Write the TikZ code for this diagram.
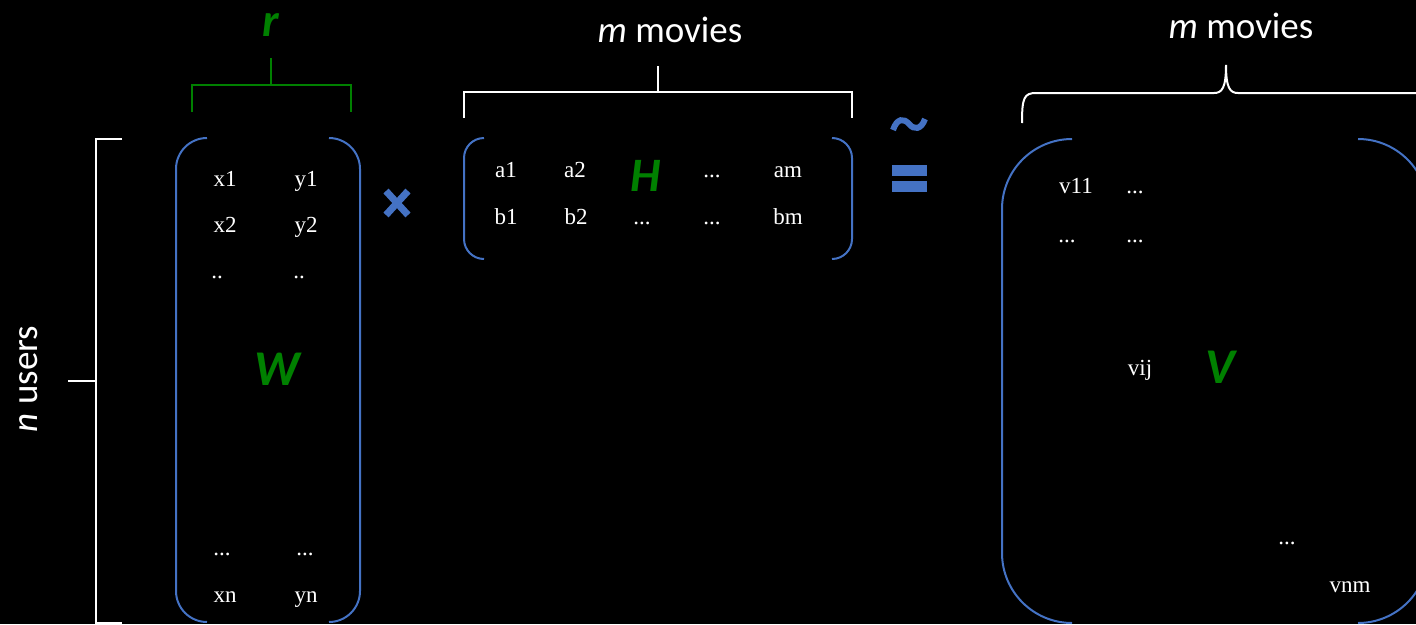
\documentclass[tikz,border=0pt]{standalone}
\usepackage{fontspec}
\setmainfont{Liberation Serif}
\newfontfamily\calib{Carlito}
\definecolor{offblue}{RGB}{68,114,196}
\definecolor{mgreen}{RGB}{0,128,0}
\begin{document}
\begin{tikzpicture}[x=1pt,y=-1pt,
  wline/.style={draw=white,line width=2pt},
  gline/.style={draw=mgreen,line width=2.2pt},
  paren/.style={draw=offblue,line width=2pt},
  ent/.style={text=white,font=\fontsize{23}{25}\selectfont,inner sep=0pt,anchor=base},
  big/.style={text=mgreen,font=\calib\bfseries\itshape\fontsize{50}{54}\selectfont,inner sep=0pt,anchor=base},
  lab/.style={text=white,font=\calib\fontsize{37}{40}\selectfont,inner sep=0pt}]
\fill[black] (0,0) rectangle (1416,624);
\useasboundingbox (0,0) rectangle (1416,624);
\clip (0,0) rectangle (1416,624);
% n users bracket
\draw[wline] (122,139) -- (96,139) -- (96,623) -- (122,623);
\draw[wline] (68,381) -- (96,381);
\node[lab,rotate=90] (nusers) at (29,379) {\textit{n} users};
% r bracket
\draw[gline] (192,112) -- (192,85) -- (351,85) -- (351,112);
\draw[gline] (271,85) -- (271,58);
\node[big,font=\calib\bfseries\itshape\fontsize{47}{50}\selectfont] (r) at (271,36) {r};
% W paren
\draw[paren,rounded corners=31pt] (207,138) -- (176,138) -- (176,622) -- (207,622);
\draw[paren,rounded corners=31pt] (329,138) -- (360,138) -- (360,622) -- (329,622);
\node[ent] (x1) at (225,186) {x1};
\node[ent] (y1) at (306,186) {y1};
\node[ent] (x2) at (225,232) {x2};
\node[ent] (y2) at (306,232) {y2};
\node[ent] (x3) at (217,278) {..};
\node[ent] (y3) at (299,278) {..};
\node[ent] (xd) at (222,555) {...};
\node[ent] (yd) at (305,555) {...};
\node[ent] (xn) at (225,602) {xn};
\node[ent] (yn) at (306,602) {yn};
\node[big] (W) at (277,385) {W};
% times
\draw[draw=offblue,line width=7pt] (386,191) -- (408,215);
\draw[draw=offblue,line width=7pt] (386,215) -- (408,191);
% H bracket
\draw[wline] (464,118) -- (464,92) -- (852,92) -- (852,118);
\draw[wline] (658,92) -- (658,66);
\node[lab] (mm1) at (670,30) {\textit{m} movies};
% H paren
\draw[paren,rounded corners=20pt] (484,138) -- (464,138) -- (464,259) -- (484,259);
\draw[paren,rounded corners=20pt] (832,138) -- (852,138) -- (852,259) -- (832,259);
\node[ent] (a1) at (506,177) {a1};
\node[ent] (a2) at (575,177) {a2};
\node[ent] (ad) at (712,177) {...};
\node[ent] (am) at (788,177) {am};
\node[ent] (b1) at (506,224) {b1};
\node[ent] (b2) at (576,224) {b2};
\node[ent] (bd1) at (642,224) {...};
\node[ent] (bd2) at (712,224) {...};
\node[ent] (bm) at (788,224) {bm};
\node[big,font=\calib\bfseries\itshape\fontsize{48}{52}\selectfont] (H) at (646,191) {H};
% approx
\draw[draw=offblue,line width=6pt] (893,130) .. controls (897,118) and (904,118) .. (909,124) .. controls (914,130) and (921,130) .. (925,119);
\fill[offblue] (892,165) rectangle (927,176);
\fill[offblue] (892,181) rectangle (927,192);
% V brace
\draw[wline] (1022,123) .. controls (1022,98) and (1024,93) .. (1036,93) -- (1214,93) .. controls (1222,93) and (1226,88) .. (1226,65)
  .. controls (1226,88) and (1230,93) .. (1238,93) -- (1430,93);
\node[lab] (mm2) at (1241,26) {\textit{m} movies};
% V paren
\draw[paren,rounded corners=70pt] (1072,139) -- (1002,139) -- (1002,623) -- (1072,623);
\draw[paren,rounded corners=70pt] (1358,139) -- (1428,139) -- (1428,623) -- (1358,623);
\node[ent] (v11) at (1076,193) {v11};
\node[ent] (vd1) at (1135,193) {...};
\node[ent] (vd2) at (1067,242) {...};
\node[ent] (vd3) at (1135,242) {...};
\node[ent] (vij) at (1140,375) {vij};
\node[ent] (vd4) at (1287,544) {...};
\node[ent] (vnm) at (1350,592) {vnm};
\node[big] (V) at (1220,383) {V};
\end{tikzpicture}
\end{document}
